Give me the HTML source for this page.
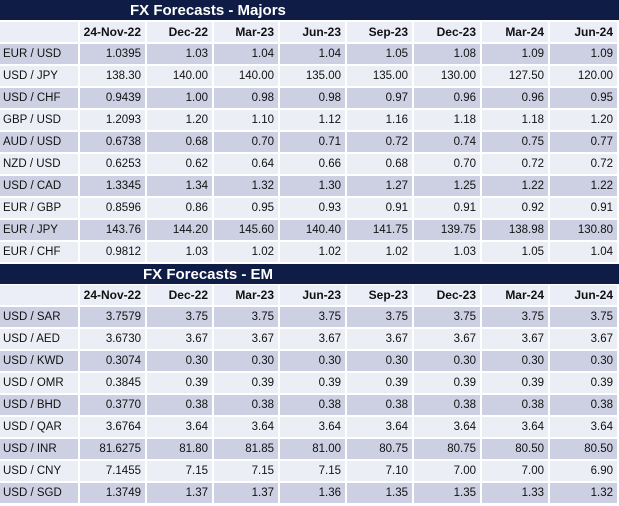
<!DOCTYPE html>
<html><head><style>
body{margin:0;width:619px;height:506px;background:#fff;font-family:"Liberation Sans",Arial,sans-serif;position:relative;overflow:hidden}
.bar{position:absolute;left:0;width:619px;height:20px;background:#0f1c45;color:#fff;font-weight:bold;font-size:15px;line-height:21px}
.c{position:absolute;height:20px;line-height:21px;font-size:11.5px;color:#111;box-sizing:border-box}
.h{font-weight:bold;background:#eceef7;text-align:right;padding-right:4px;font-size:12px}
.l{padding-left:3px}
.r{text-align:right;padding-right:4px}
.d{background:#cdd0e2}.w{background:#eceef6}
</style></head><body>
<div class="bar" style="top:0"><span style="position:absolute;left:130px">FX Forecasts - Majors</span></div>
<div class="bar" style="top:264px"><span style="position:absolute;left:143px">FX Forecasts - EM</span></div>
<div id="t"></div>
<script>
var xs=[0,80,147,214,280,347,414,482,550,617];
var hd=["","24-Nov-22","Dec-22","Mar-23","Jun-23","Sep-23","Dec-23","Mar-24","Jun-24"];
var A=[["EUR / USD","1.0395","1.03","1.04","1.04","1.05","1.08","1.09","1.09"],
["USD / JPY","138.30","140.00","140.00","135.00","135.00","130.00","127.50","120.00"],
["USD / CHF","0.9439","1.00","0.98","0.98","0.97","0.96","0.96","0.95"],
["GBP / USD","1.2093","1.20","1.10","1.12","1.16","1.18","1.18","1.20"],
["AUD / USD","0.6738","0.68","0.70","0.71","0.72","0.74","0.75","0.77"],
["NZD / USD","0.6253","0.62","0.64","0.66","0.68","0.70","0.72","0.72"],
["USD / CAD","1.3345","1.34","1.32","1.30","1.27","1.25","1.22","1.22"],
["EUR / GBP","0.8596","0.86","0.95","0.93","0.91","0.91","0.92","0.91"],
["EUR / JPY","143.76","144.20","145.60","140.40","141.75","139.75","138.98","130.80"],
["EUR / CHF","0.9812","1.03","1.02","1.02","1.02","1.03","1.05","1.04"]];
var B=[["USD / SAR","3.7579","3.75","3.75","3.75","3.75","3.75","3.75","3.75"],
["USD / AED","3.6730","3.67","3.67","3.67","3.67","3.67","3.67","3.67"],
["USD / KWD","0.3074","0.30","0.30","0.30","0.30","0.30","0.30","0.30"],
["USD / OMR","0.3845","0.39","0.39","0.39","0.39","0.39","0.39","0.39"],
["USD / BHD","0.3770","0.38","0.38","0.38","0.38","0.38","0.38","0.38"],
["USD / QAR","3.6764","3.64","3.64","3.64","3.64","3.64","3.64","3.64"],
["USD / INR","81.6275","81.80","81.85","81.00","80.75","80.75","80.50","80.50"],
["USD / CNY","7.1455","7.15","7.15","7.15","7.10","7.00","7.00","6.90"],
["USD / SGD","1.3749","1.37","1.37","1.36","1.35","1.35","1.33","1.32"]];
var h="";
function cell(x,y,cls,t){var w=(x==8?xs[9]:xs[x+1]-2)-xs[x];if(x==0)w=78;h+='<div class="c '+cls+'" style="left:'+xs[x]+'px;top:'+y+'px;width:'+w+'px">'+t+'</div>';}
function tbl(y0,D){for(var i=0;i<9;i++)cell(i,y0,"h",hd[i]);
D.forEach(function(r,j){var y=y0+22*(j+1),bg=j%2?"w":"d";for(var i=0;i<9;i++)cell(i,y,(i?"r ":"l ")+bg,r[i]);});}
tbl(22,A);tbl(285,B);
document.getElementById("t").innerHTML=h;
</script>
</body></html>
